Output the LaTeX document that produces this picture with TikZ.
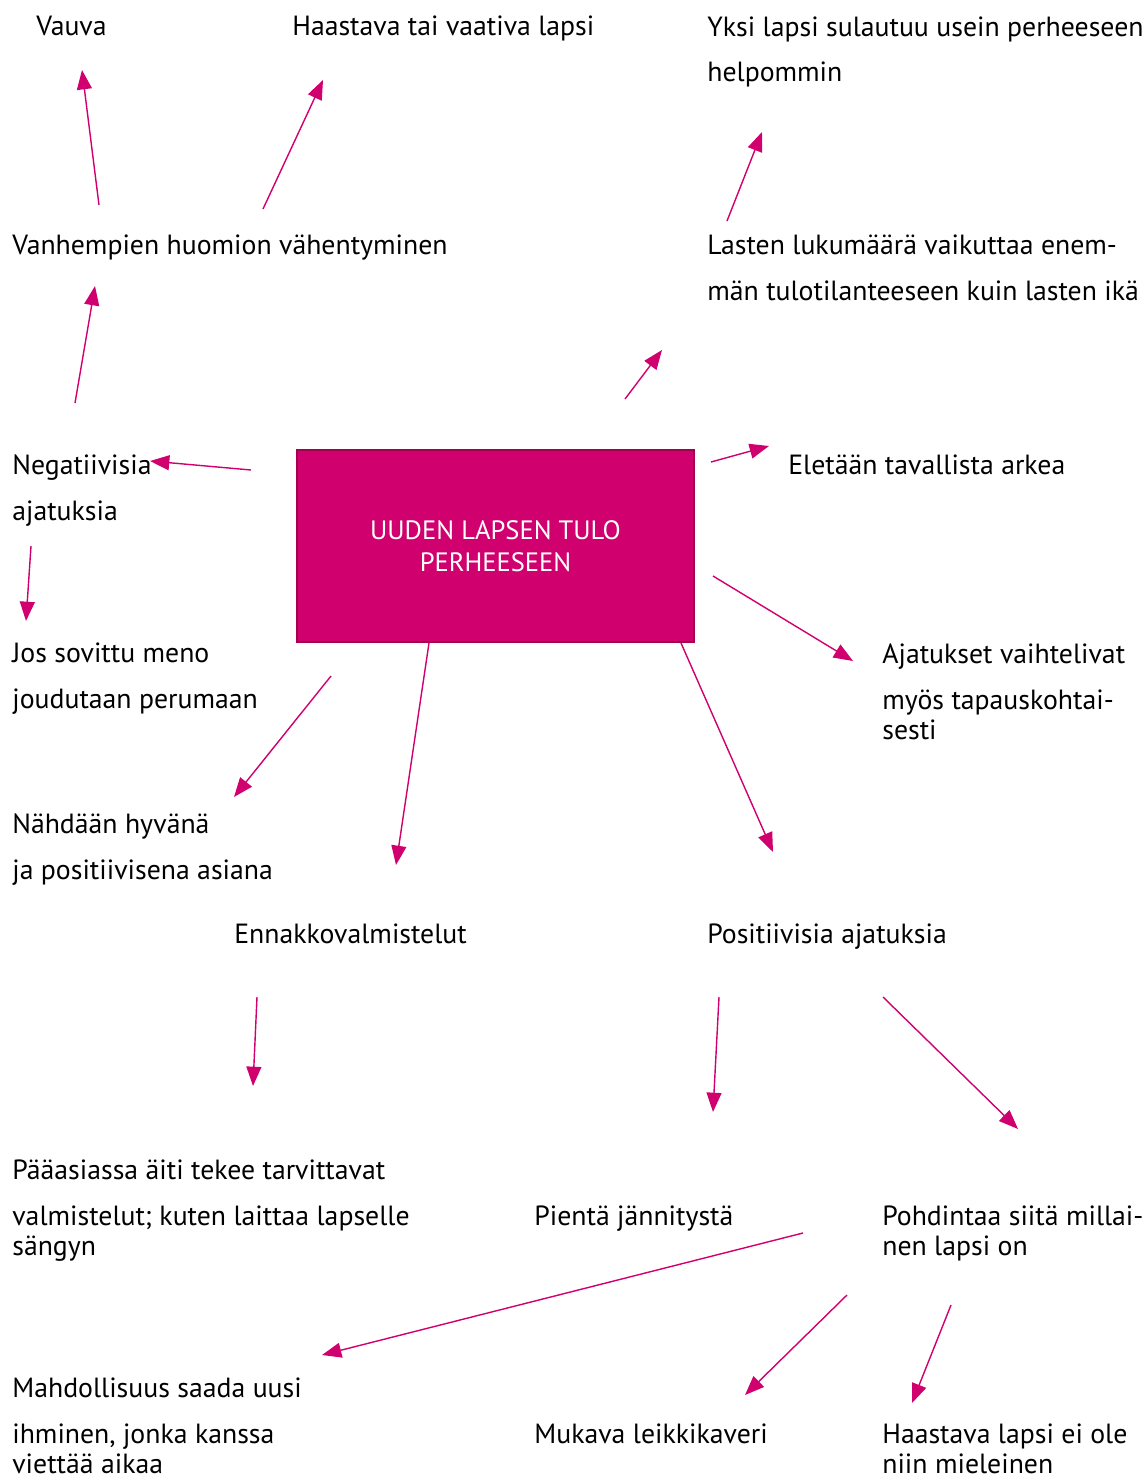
\documentclass[tikz,border=0pt]{standalone}
\usepackage{fontspec}
\setmainfont{PT Sans}
\usetikzlibrary{arrows.meta}

\definecolor{lapsipink}{HTML}{D1006F}
\definecolor{lapsidark}{HTML}{A3004F}

\tikzset{
    txt/.style={anchor=base west, inner sep=0pt, align=left,
        font=\fontsize{15.8}{17}\selectfont},
    arr/.style={draw=lapsipink, line width=0.8pt,
        -{Triangle[length=11pt,width=8.5pt]}, color=lapsipink},
    bigbox/.style={draw=lapsidark, line width=1pt, fill=lapsipink,
        text=white, align=center, font=\fontsize{15.1}{18.1}\selectfont,
        minimum width=7.94cm, minimum height=3.84cm, inner sep=0pt}
}

\begin{document}
\begin{tikzpicture}[x=0.02cm, y=-0.02cm]

    % Page
    \useasboundingbox (0,0) rectangle (1147,1477);

    % Center box
    \node[bigbox] (tulo) at (495.5,546) {UUDEN LAPSEN TULO\\PERHEESEEN};

    % Texts, top (placed at the baseline of the last line)
    \node[txt] (vauva) at (36,36) {Vauva};
    \node[txt] (haastava) at (292,36) {Haastava tai vaativa lapsi};
    \node[txt] (yksi) at (707,82) {Yksi lapsi sulautuu usein perheeseen\\[9.07pt]helpommin};
    \node[txt] (huomio) at (12,254) {Vanhempien huomion vähentyminen};
    \node[txt] (lukumaara) at (707,300) {Lasten lukumäärä vaikuttaa enem-\\[9.07pt]män tulotilanteeseen kuin lasten ikä};

    % Texts, middle
    \node[txt] (negat) at (12,520) {Negatiivisia\\[9.07pt]ajatuksia};
    \node[txt] (arki) at (788,474) {Eletään tavallista arkea};
    \node[txt] (meno) at (12,708) {Jos sovittu meno\\[9.07pt]joudutaan perumaan};
    \node[txt] (vaiht) at (882,739) {Ajatukset vaihtelivat\\[9.07pt]myös tapauskohtai-\\sesti};
    \node[txt] (hyva) at (12,879) {Nähdään hyvänä\\[9.07pt]ja positiivisena asiana};
    \node[txt] (ennakko) at (234,943) {Ennakkovalmistelut};
    \node[txt] (posit) at (707,943) {Positiivisia ajatuksia};

    % Texts, bottom
    \node[txt] (aiti) at (12,1255) {Pääasiassa äiti tekee tarvittavat\\[9.07pt]valmistelut; kuten laittaa lapselle\\sängyn};
    \node[txt] (jannitys) at (534,1225) {Pientä jännitystä};
    \node[txt] (pohdinta) at (882,1255) {Pohdintaa siitä millai-\\nen lapsi on};
    \node[txt] (uusi) at (12,1473) {Mahdollisuus saada uusi\\[9.07pt]ihminen, jonka kanssa\\viettää aikaa};
    \node[txt] (kaveri) at (534,1443) {Mukava leikkikaveri};
    \node[txt] (mieleinen) at (882,1473) {Haastava lapsi ei ole\\niin mieleinen};

    % Arrow ends
    \coordinate (a1s) at (99,205);   \coordinate (a1e) at (82,70);
    \coordinate (a2s) at (263,209);  \coordinate (a2e) at (323,80);
    \coordinate (a3s) at (727,221);  \coordinate (a3e) at (762,132);
    \coordinate (a4s) at (75,403);   \coordinate (a4e) at (95,286);
    \coordinate (a5s) at (625,399);  \coordinate (a5e) at (662,350);
    \coordinate (a6s) at (711,462);  \coordinate (a6e) at (769,446);
    \coordinate (a7s) at (251,470);  \coordinate (a7e) at (150,461);
    \coordinate (a8s) at (31,546);   \coordinate (a8e) at (26,621);
    \coordinate (a9s) at (713,576);  \coordinate (a9e) at (853,661);
    \coordinate (a10s) at (331,676); \coordinate (a10e) at (234,797);
    \coordinate (a11s) at (429,643); \coordinate (a11e) at (396,865);
    \coordinate (a12s) at (681,643); \coordinate (a12e) at (773,852);
    \coordinate (a13s) at (257,997); \coordinate (a13e) at (253,1086);
    \coordinate (a14s) at (719,997); \coordinate (a14e) at (713,1112);
    \coordinate (a15s) at (883,997); \coordinate (a15e) at (1018,1129);
    \coordinate (a16s) at (803,1233); \coordinate (a16e) at (322,1355);
    \coordinate (a17s) at (847,1295); \coordinate (a17e) at (745,1395);
    \coordinate (a18s) at (951,1305); \coordinate (a18e) at (912,1403);

    % Arrows
    \foreach \i in {1,...,18}
        \draw[arr] (a\i s) -- (a\i e);

\end{tikzpicture}
\end{document}
